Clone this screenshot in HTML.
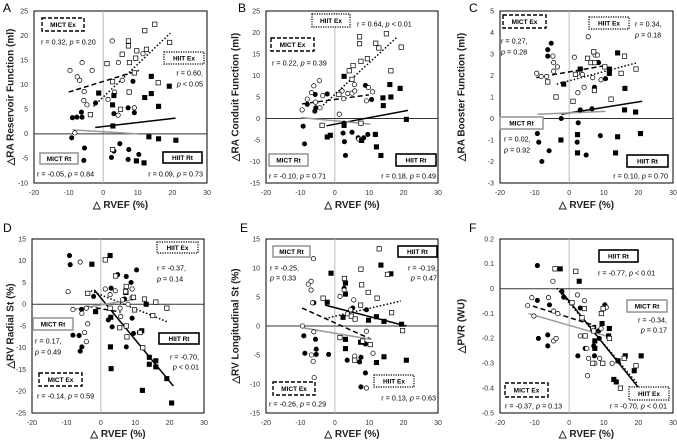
<!DOCTYPE html>
<html><head><meta charset="utf-8"><style>
html,body{margin:0;padding:0;background:#fff}
svg{display:block;font-family:"Liberation Sans",sans-serif}
</style></head><body>
<svg id="c" width="677" height="440" viewBox="0 0 677 440"></svg>
<script>
// ---------- DATA ----------
const xTicks=[-20,-10,0,10,20,30];
// Panel A
const aMictRt=[[-8.9,3.3],[-7.6,3.4],[-6.1,3.4],[-6.3,4.4],[-2.2,6.3],[8.6,10.7],[3.1,4.1],[7.2,5.3],[9,4.3],[-9.1,-0.8],[-5.4,-2.9],[-5.6,-5.4],[4.8,-2],[7.4,-3.2],[2.4,-4.8],[3.1,-3.5],[7.2,-5.2],[10.3,-4.2]];
const aMictEx=[[-9.6,12.9],[-6.1,14.5],[-3.2,12.9],[-7.5,11.6],[-6.8,10.9],[-5.5,8.6],[-4.7,5.9],[-5.6,6.8],[2.6,18.9],[4.4,14.5],[1.4,7],[3.3,8.5],[5.5,10.9],[4.3,3.8],[11.5,16.3],[9,5.3],[-8.2,0.2]];
const aHiitEx=[[14.9,22.3],[12,21],[19.2,18.6],[7.3,18.9],[7.3,17.9],[9.7,16.9],[12.5,17.2],[1.1,14.3],[7.6,14.5],[9.4,15.4],[9,12.4],[5.5,16.2],[2.7,10.6],[15.9,10.4],[7.5,8.5],[5,5],[-3.7,3.9],[2.7,-3.2]];
const aHiitRt=[[-1.3,8.3],[3.1,7.8],[2.7,5.9],[13.9,11.7],[13.9,8.2],[12,7.4],[16,5.6],[19.1,9.7],[2.8,1.6],[13.2,-0.6],[16,-1],[21,-1.3],[9.6,-5.5],[11.8,-5.9]];
const aFits=[[-10,8.5,10.3,12.9],[-2.8,5.6,19.4,20.5],[-2.3,1.3,20.9,3.2],[-8.9,0.8,10,0]];
// Panel B
const bMictRt=[[-8,3.3],[-9.2,-1.8],[-8.8,-5.9],[-5.7,5.6],[-5.5,2.5],[-5.8,1.7],[-2.2,5.7],[2.7,-1.1],[2.4,-3.4],[5,-3.2],[2.8,-5.4],[3.1,-8.6],[6.8,-4.5],[8.4,-4.5],[9.6,-3.7],[8.9,7.7],[10.7,4.4]];
const bMictEx=[[-9.5,2],[-8,4.5],[-6.1,7.6],[-4.5,8.8],[-6.8,6],[-5.6,3.8],[-4.3,2.5],[-3.5,5.3],[1.3,1],[2.1,6.4],[2.6,4.6],[3.8,5.8],[5,5.9],[5.8,6.4],[5.7,7.9],[9.2,4.1],[9.8,7.2],[11,6.2],[7,-4.8]];
const bHiitEx=[[7.2,19],[7.2,17.4],[15,19.7],[11.9,17.5],[12.8,16.4],[19.3,16.6],[5.3,12.3],[7.6,13.3],[9.5,13.9],[4.2,11.1],[5,9.1],[16.3,11.1],[-3.7,-1.6],[7.6,-1.1],[1.2,5.6]];
const bHiitRt=[[2.7,9.8],[14,4.8],[14.1,3],[16,7.9],[16.3,5],[19,7],[20.8,-0.2],[11.8,-3.7],[12.1,-6.6],[13.4,-8.6],[-2.2,-4.3],[-1.3,-3.9],[2.7,-1.6],[7.8,-5.1]];
const bFits=[[-9.5,3.4,9.9,5.5],[-3.4,3.1,18.2,19],[-2.4,-1.7,21.3,1.9],[-9.8,0.2,10.4,-1.3]];
// Panel C
const cMictRt=[[-6.2,3.2],[-5.2,3.5],[-6.2,2.9],[-9.2,-0.7],[-8.8,-1.1],[-5.8,-1.5],[-7.9,-2],[-2.3,0],[2.6,-0.2],[3.2,0.4],[6.6,0.45],[2.3,-1.1],[4.9,-1.7],[9,-0.8],[8.5,2.6],[10.5,1.85],[7.3,1.45]];
const cMictEx=[[-9.4,2.1],[-8.1,1.95],[-6.5,1.95],[-4.7,2.9],[-4.5,2.6],[-3.4,2.4],[-4.5,2.2],[1.5,2.85],[5.5,3.8],[2.4,2.1],[3.8,2.05],[4.3,1.45],[2.5,1.2],[6.8,1.9],[7.5,2.95],[8.2,2.95],[9.2,1.8]];
const cHiitEx=[[7.1,3.1],[5.3,2.8],[6.3,2.6],[7.4,2.6],[10.3,2.4],[16,2.9],[19.3,2.3],[15,2.1],[1.8,2.05],[-3.8,1],[1.1,0.8],[12.1,0.9],[7.3,1.3],[-6.2,1.7]];
const cHiitRt=[[14,3.05],[11.6,2.1],[11.6,2.3],[3.2,2.3],[-1.6,1.6],[16.1,1.4],[16,0.4],[19.2,0.3],[20.6,-0.7],[14,-0.85],[2.4,-0.75],[-2.4,-1],[2.4,-1.6],[13.4,-1.6]];
const cFits=[[-9.5,1.9,10,2.45],[-3.6,1.6,19.8,2.6],[-2.3,0.2,21.1,0.8],[-9.2,0.2,10.5,0.33]];
// Panel D
const dMictRt=[[-9.1,11.2],[-8.9,9.1],[-8.1,-7.1],[-6.3,-7.2],[-5.5,-9.8],[-6,-10.8],[-5.6,-1.2],[-2.1,1.8],[3,3.7],[4.9,6.8],[7.4,6.4],[8.8,5],[10.4,7.9],[2.2,-3.6],[3.3,-5.2],[7.4,-9.8],[9.1,-3.2],[9.5,-6.7],[6.9,1.2]];
const dMictEx=[[-9.5,2.9],[-6,9.7],[-8.1,-1.2],[-5.5,-2.1],[-4.2,-0.9],[-3.8,-4.5],[-4.7,-6.5],[-4.2,-8.6],[1.3,3.5],[2.7,2.2],[4.2,3.1],[5.6,-0.9],[5.8,-2.8],[6.3,1],[7.9,0],[9.1,3.5],[9.1,1.5],[11.2,-6.5]];
const dHiitEx=[[1.3,10.2],[-3.8,2.5],[4.3,6.5],[7.4,4.1],[7.2,2.9],[7.4,-5],[7.6,-7.5],[5.5,-5.4],[9.5,1.6],[12.7,1.2],[16,0.5],[19.2,-0.9],[15.1,-2.6],[11.4,-6.5],[12.2,-10],[9.8,-1.3],[2.7,-0.9]];
const dHiitRt=[[-2.6,9.2],[2.7,11.2],[7.3,2.7],[-1.5,-1.7],[2.9,-3],[2.8,-9.8],[3,-14.8],[11.9,-6.1],[13.2,0],[14.1,-12.2],[14.1,-13.8],[16,-13],[16,-14.4],[19.2,-17.1],[12.1,-19.8],[20.6,-22.7]];
const dFits=[[-3.8,-0.5,5.8,-1.8],[-2.9,3.1,19.2,-4],[-1.9,3.3,21.1,-18.8],[-8.6,-1.3,10.3,1.2]];
// Panel E
const eMictRt=[[-6.1,4],[-9,-1.7],[-8.7,-4.7],[-5.6,-2.3],[-5.4,-4],[-5.4,-4.9],[-1.8,-4.9],[2.7,6.5],[5.2,3.1],[3.6,-5.9],[7.6,-5.4],[7.2,-6.2],[9.2,2.8],[8.9,-3.1],[8.9,-8.1],[7.6,-10.5]];
const eMictEx=[[-7.7,7.2],[-6.9,7.7],[-6.2,11.6],[-6.9,6.2],[-6.5,4],[-9.4,0],[-6.1,-1],[-6.8,-5],[-6.3,-6.1],[-6,-8.9],[1.5,5.1],[2.7,6.2],[5.5,4.5],[4.6,2.8],[3.7,2.1],[9.2,-0.9],[11.1,-4.7],[5.8,-5.2],[9.2,-10.7]];
const eHiitEx=[[12.9,13.3],[7.6,9.8],[2.8,8.2],[7.8,7.1],[9.7,5.8],[12.3,4.8],[-3.4,4.8],[4.8,1.7],[7.5,3.6],[5.9,1.2],[8.1,-2.6],[10.3,-3.2],[16.5,2.3],[19.7,-0.8],[15.3,8.9],[1.5,-2],[5.8,-5.9]];
const eHiitRt=[[-1.1,9.1],[3.1,7.4],[3.1,5.5],[-2.2,4.1],[13.4,10.5],[16.3,9],[2.4,1.5],[9.8,1],[12.1,1.6],[14.3,0.8],[19.4,0.3],[3.1,-2.3],[3.1,-3.9],[7.5,-2.8],[12.1,-6.3],[14.3,-5.3],[20.8,-5.9]];
const eFits=[[-9.5,3.1,10.6,-2.3],[-2.8,1.3,19.2,4.3],[-2.8,3.6,20.8,0],[-9.4,-0.3,10.6,-2.3]];
// Panel F
const fMictRt=[[-9.2,0.093],[-9.2,-0.047],[-8.9,-0.2],[-6.2,-0.186],[-6.2,-0.23],[-5.7,-0.065],[-2.1,-0.011],[-1.6,-0.034],[3.2,-0.078],[2.5,-0.27],[4.6,-0.24],[7.1,-0.23],[7.3,-0.27],[7.1,-0.156],[8.7,-0.2],[10.3,-0.065],[8.5,-0.17]];
const fMictEx=[[-12,-0.068],[-10.8,-0.036],[-10.2,-0.11],[-4.7,0.03],[-6,-0.036],[-4.5,-0.09],[-3.3,-0.1],[-4.5,-0.21],[-3.8,-0.2],[2.4,-0.025],[4.4,-0.048],[3.2,-0.19],[5.1,-0.24],[5.6,-0.28],[5.3,-0.35],[7.4,-0.3],[8.8,-0.28],[9.2,-0.16],[10.7,-0.075],[12.4,-0.3]];
const fHiitEx=[[-4.1,0.08],[1.9,0.07],[0.8,-0.056],[3.7,-0.117],[4.4,-0.08],[6.8,-0.16],[7.1,-0.17],[9.3,-0.1],[9.8,-0.08],[11.6,-0.2],[9.7,-0.3],[6.8,-0.3],[15.9,-0.28],[19.3,-0.31],[14.8,-0.4],[4.6,-0.19]];
const fHiitRt=[[-2.6,0.08],[2.9,0.03],[9.5,-0.14],[11.6,-0.16],[11.4,-0.19],[7.4,-0.21],[7.4,-0.24],[14.1,-0.29],[16.2,-0.27],[20.8,-0.27],[18.8,-0.33],[12.9,-0.365],[13.6,-0.375]];
const fFits=[[-10.5,-0.07,7.8,-0.15],[-3.6,0.002,19.6,-0.38],[-2.6,-0.005,20.7,-0.41],[-11.8,-0.1,10.7,-0.19]];

const aYTicks=[25,20,15,10,5,0,-5,-10];
const bYTicks=[25,20,15,10,5,0,-5,-10,-15];
const cYTicks=[5,4,3,2,1,0,-1,-2,-3];
const dYTicks=[15,10,5,0,-5,-10,-15,-20,-25];
const eYTicks=[15,10,5,0,-5,-10,-15];
const fYTicks=['0.2','0.1','0','-0.1','-0.2','-0.3','-0.4','-0.5'];

// ---------- LAYOUT ----------
const NS='http://www.w3.org/2000/svg';
const svg=document.getElementById('c');
function mk(tag,attrs,parent,txt){const e=document.createElementNS(NS,tag);for(const k in attrs)e.setAttribute(k,attrs[k]);if(txt!==undefined)e.textContent=txt;(parent||svg).appendChild(e);return e;}

const panels=[
 {id:'a',L:'A',lx:3,ly:12,xl:34,xr:207,yt:11,yb:183,ymin:-10,ymax:25,ticks:aYTicks,title:'\u25B3RA Reservoir Function (ml)',tx:11,xt:208,
  series:[aMictRt,aMictEx,aHiitRt,aHiitEx],fits:aFits,ox:0,oy:0,
  boxes:[['MICT Ex','dash',42,18,42,13],['HIIT Ex','dot',164,52,40,12],['MICT Rt','gray',40,153,38,11],['HIIT Rt','black',163,152,39,11]],
  texts:[['r = 0.32, ','0.20',41,42,'start','='],['r = 0.60,',null,203,73,'end'],['< 0.05',null,203,84,'end','p'],['r = -0.05, ','0.84',37,174,'start','='],['r = 0.09, ','0.73',203,174,'end','=']]},
 {id:'b',L:'B',lx:238,ly:12,xl:266,xr:438,yt:11,yb:183,ymin:-15,ymax:25,ticks:bYTicks,title:'\u25B3RA Conduit Function (ml)',tx:236,xt:208,
  series:[bMictRt,bMictEx,bHiitRt,bHiitEx],fits:bFits,ox:225,oy:0,
  boxes:[['HIIT Ex','dot',87,14,38,13],['MICT Ex','dash',46,38,43,13],['MICT Rt','gray',44,154,39,12],['HIIT Rt','black',171,154,40,12]],
  texts:[['r = 0.64, ','0.01',132,24,'start','<'],['r = 0.22, ','0.39',47,63,'start','='],['r = -0.10, ','0.71',44,176,'start','='],['r = 0.18, ','0.49',211,176,'end','=']]},
 {id:'c',L:'C',lx:469,ly:12,xl:500,xr:673,yt:11,yb:183,ymin:-3,ymax:5,ticks:cYTicks,title:'\u25B3RA Booster Function (ml)',tx:462,xt:208,
  series:[cMictRt,cMictEx,cHiitRt,cHiitEx],fits:cFits,ox:447,oy:0,
  boxes:[['MICT Ex','dash',56,15,43,13],['HIIT Ex','dot',142,17,40,12],['MICT Rt','gray',53,117,43,12],['HIIT Rt','black',180,155,41,12]],
  texts:[['r = 0.27,',null,54,41,'start'],['= 0.28',null,54,52,'start','p'],['r = 0.34,',null,188,24,'start'],['= 0.18',null,188,35,'start','p'],['r = 0.02,',null,57,139,'start'],['= 0.92',null,57,150,'start','p'],['r = 0.10, ','0.70',221,176,'end','=']]},
 {id:'d',L:'D',lx:3,ly:232,xl:32,xr:204,yt:239,yb:413,ymin:-25,ymax:15,ticks:dYTicks,title:'\u25B3RV Radial St (%)',tx:11,xt:437,
  series:[dMictRt,dMictEx,dHiitRt,dHiitEx],fits:dFits,ox:0,oy:220,
  boxes:[['HIIT Ex','dot',157,22,41,11],['MICT Rt','gray',33,98,40,12],['HIIT Rt','black',159,113,40,11],['MICT Ex','dash',39,153,43,13]],
  texts:[['r = -0.37,',null,157,48,'start'],['= 0.14',null,157,59,'start','p'],['r = 0.17,',null,35,121,'start'],['= 0.49',null,35,132,'start','p'],['r = -0.70,',null,199,137,'end'],['< 0.01',null,199,147,'end','p'],['r = -0.14, ','0.59',37,176,'start','=']]},
 {id:'e',L:'E',lx:240,ly:232,xl:266,xr:438,yt:239,yb:413,ymin:-15,ymax:15,ticks:eYTicks,title:'\u25B3RV Longitudinal St (%)',tx:236,xt:437,
  series:[eMictRt,eMictEx,eHiitRt,eHiitEx],fits:eFits,ox:225,oy:220,
  boxes:[['MICT Rt','gray',48,26,37,11],['HIIT Rt','black',173,26,39,11],['MICT Ex','dash',48,162,42,13],['HIIT Ex','dot',149,155,40,12]],
  texts:[['r = -0.25,',null,45,48,'start'],['= 0.33',null,45,58,'start','p'],['r = -0.19,',null,212,48,'end'],['= 0.47',null,212,58,'end','p'],['r = -0.26, ','0.29',44,184,'start','='],['r = 0.13, ','0.63',211,178,'end','=']]},
 {id:'f',L:'F',lx:469,ly:232,xl:500,xr:673,yt:239,yb:413,ymin:-0.5,ymax:0.2,ticks:fYTicks,title:'\u25B3PVR (WU)',tx:462,xt:437,
  series:[fMictRt,fMictEx,fHiitRt,fHiitEx],fits:fFits,ox:447,oy:220,
  boxes:[['HIIT Rt','black',152,30,39,12],['MICT Rt','gray',180,80,40,12],['MICT Ex','dash',58,163,43,14],['HIIT Ex','dot',182,167,40,13]],
  texts:[['r = -0.77, ','0.01',151,53,'start','<'],['r = -0.34,',null,220,100,'end'],['= 0.17',null,220,110,'end','p'],['r = -0.37, ','0.13',58,186,'start','='],['r = -0.70, ','0.01',220,186,'end','<']]}
];

const fitStyle=[{s:'#000',d:'5,3'},{s:'#000',d:'1.5,2'},{s:'#000',d:''},{s:'#999',d:''}];
const boxStyle={dash:['#000','4,2',1.4],dot:['#000','1.2,1.2',1.2],gray:['#999','',1.6],black:['#000','',1.6]};

panels.forEach(p=>{
  const g=mk('g',{});
  
  
  const X=v=>p.xl+(v+20)/50*(p.xr-p.xl);
  const Y=v=>p.yb-(v-p.ymin)/(p.ymax-p.ymin)*(p.yb-p.yt);
  const lt=mk('text',{x:p.lx,y:p.ly,'font-size':12,fill:'#000'},g,p.L);
  
  
  const fr=mk('rect',{x:p.xl,y:p.yt,width:p.xr-p.xl,height:p.yb-p.yt,fill:'none',stroke:'#000','stroke-width':1},g);
  
  
  const vz=mk('line',{x1:X(0),x2:X(0),y1:p.yt,y2:p.yb,stroke:'#bbb','stroke-width':1},g);
  
  
  const hz=mk('line',{x1:p.xl,x2:p.xr,y1:Y(0),y2:Y(0),stroke:'#333','stroke-width':1},g);
  
  
  xTicks.forEach(t=>{const e=mk('text',{x:X(t),y:p.yb+12,'font-size':7,'text-anchor':'middle',fill:'#333'},g,String(t));
    
    });
  p.ticks.forEach(t=>{const e=mk('text',{x:p.xl-6,y:Y(+t)+2.3,'font-size':7,'text-anchor':'end',fill:'#333'},g,String(t));
    
    });
  const xt=mk('text',{x:(p.xl+p.xr)/2,y:p.xt,'font-size':10,'font-weight':'bold','text-anchor':'middle',fill:'#222'},g,'\u25B3 RVEF (%)');
  
  
  const cy=(p.yt+p.yb)/2;
  const yt=mk('text',{x:p.tx,y:cy,'font-size':10,'font-weight':'bold','text-anchor':'middle',fill:'#222','dominant-baseline':'middle',transform:`rotate(-90 ${p.tx} ${cy})`},g,p.title);
  
  
  const fitNames=['mict-ex-fit','hiit-ex-fit','hiit-rt-fit','mict-rt-fit'];
  p.fits.forEach((f,i)=>{const l=mk('line',{x1:X(f[0]),y1:Y(f[1]),x2:X(f[2]),y2:Y(f[3]),stroke:fitStyle[i].s,'stroke-width':1.5,'stroke-dasharray':fitStyle[i].d},g);
    
    });
  const sn=['mict-rt-point','mict-ex-point','hiit-rt-point','hiit-ex-point'];
  p.series.forEach((arr,si)=>{arr.forEach(pt=>{
    let e;
    const fill=(si===0||si===2)?'#000':'#fff';
    if(si<2) e=mk('circle',{cx:X(pt[0]),cy:Y(pt[1]),r:2.2,fill:fill,stroke:'#000','stroke-width':0.7},g);
    else e=mk('rect',{x:X(pt[0])-2.2,y:Y(pt[1])-2.2,width:4.4,height:4.4,fill:fill,stroke:'#000','stroke-width':0.7},g);
    
    
  });});
  p.boxes.forEach(b=>{const st=boxStyle[b[1]];const bx=p.ox+b[2],by=p.oy+b[3];
    const r=mk('rect',{x:bx,y:by,width:b[4],height:b[5],fill:'#fff',stroke:st[0],'stroke-width':st[2],'stroke-dasharray':st[1]},g);
    
    
    const t=mk('text',{x:bx+b[4]/2,y:by+b[5]/2+2.3,'font-size':6.5,'font-weight':'bold','text-anchor':'middle',fill:'#000'},g,b[0]);
    
    });
  p.texts.forEach(t=>{
    const e=mk('text',{x:p.ox+t[2],y:p.oy+t[3]+2.5,'font-size':7.2,'text-anchor':t[4],fill:'#000'},g);
    
    
    if(t[1]!==null){
      mk('tspan',{},e,t[0]);
      mk('tspan',{'font-style':'italic'},e,'p');
      mk('tspan',{},e,' '+t[5]+' '+t[1]);
    } else if(t[5]==='p'){
      mk('tspan',{'font-style':'italic'},e,'p');
      mk('tspan',{},e,' '+t[0]);
    } else e.textContent=t[0];
  });
});
</script>
</body></html>
